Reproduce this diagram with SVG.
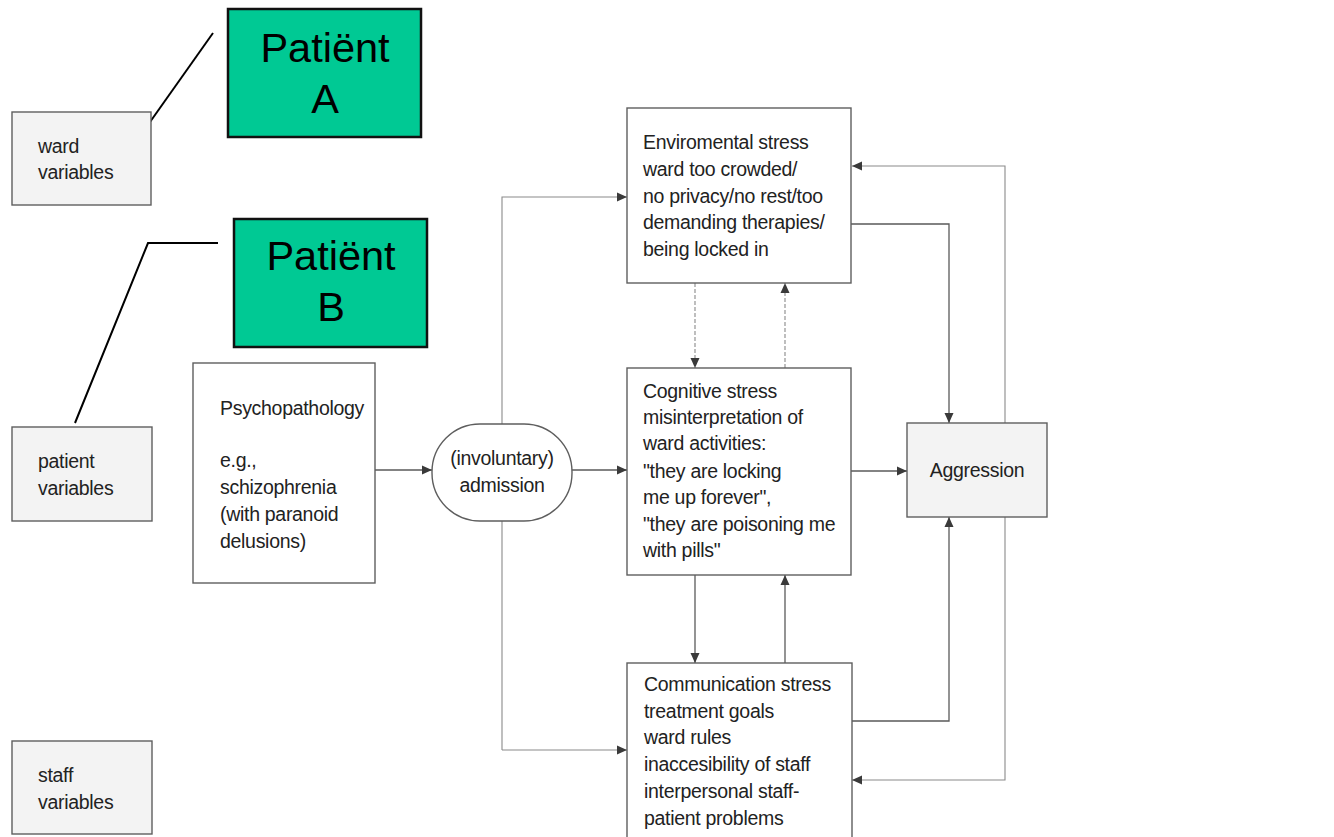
<svg xmlns="http://www.w3.org/2000/svg" width="1334" height="837" viewBox="0 0 1334 837">
<defs>
<marker id="ah" viewBox="0 0 10 10" refX="10" refY="5" markerWidth="10" markerHeight="10" markerUnits="userSpaceOnUse" orient="auto">
<path d="M0,0.5 L10,5 L0,9.5 Z" fill="#3a3a3a"/>
</marker>
<style>
.box{fill:#ffffff;stroke:#5e5e5e;stroke-width:1.4}
.gbox{fill:#f3f3f3;stroke:#5e5e5e;stroke-width:1.4}
.pat{fill:#00c994;stroke:#111;stroke-width:2.5}
.t{font-family:"Liberation Sans",Arial,sans-serif;font-size:19.5px;fill:#222;letter-spacing:-0.3px}
.tc{text-anchor:middle}
.pt{font-family:"Liberation Sans",Arial,sans-serif;font-size:41.5px;fill:#000;text-anchor:middle}
.c{fill:none;stroke:#5a5a5a;stroke-width:1.3}
.cf{fill:none;stroke:#8a8a8a;stroke-width:1.1}
.cd{fill:none;stroke:#8a8a8a;stroke-width:1.1;stroke-dasharray:4 2}
.blk{fill:none;stroke:#000;stroke-width:2}
</style>
</defs>
<rect width="1334" height="837" fill="#ffffff"/>

<g id="connectors">
<path class="blk" d="M150,122 L213,33"/>
<path class="blk" d="M218,243 L148,243 L75,423"/>
<path class="c" d="M375,470 L432,470" marker-end="url(#ah)"/>
<path class="c" d="M572,470 L627,470" marker-end="url(#ah)"/>
<path class="cf" d="M502,750 L502,197 L627,197" marker-end="url(#ah)"/>
<path class="cf" d="M502,750 L627,750" marker-end="url(#ah)"/>
<path class="cd" d="M695,283 L695,368" marker-end="url(#ah)"/>
<path class="cd" d="M785,368 L785,283" marker-end="url(#ah)"/>
<path class="c" d="M695,575 L695,663" marker-end="url(#ah)"/>
<path class="c" d="M785,663 L785,575" marker-end="url(#ah)"/>
<path class="c" d="M851,471 L907,471" marker-end="url(#ah)"/>
<path class="c" d="M851,224 L949,224 L949,423" marker-end="url(#ah)"/>
<path class="c" d="M852,721 L949,721 L949,517" marker-end="url(#ah)"/>
<path class="cf" d="M1005,423 L1005,166 L852,166" marker-end="url(#ah)"/>
<path class="cf" d="M1005,517 L1005,780 L852,780" marker-end="url(#ah)"/>
</g>

<g id="ward-variables">
<rect class="gbox" x="12" y="112" width="139" height="93"/>
<text class="t" x="38" y="153">ward</text>
<text class="t" x="38" y="179">variables</text>
</g>

<g id="patient-variables">
<rect class="gbox" x="12" y="427" width="140" height="94"/>
<text class="t" x="38" y="468">patient</text>
<text class="t" x="38" y="495">variables</text>
</g>

<g id="staff-variables">
<rect class="gbox" x="12" y="741" width="140" height="93"/>
<text class="t" x="38" y="782">staff</text>
<text class="t" x="38" y="809">variables</text>
</g>

<g id="patient-a">
<rect class="pat" x="228" y="9" width="193" height="128"/>
<text class="pt" x="325" y="62">Patiënt</text>
<text class="pt" x="325" y="113">A</text>
</g>

<g id="patient-b">
<rect class="pat" x="234" y="219" width="193" height="128"/>
<text class="pt" x="331" y="270">Patiënt</text>
<text class="pt" x="331" y="321">B</text>
</g>

<g id="psychopathology">
<rect class="box" x="193" y="363" width="182" height="220"/>
<text class="t" x="220" y="415">Psychopathology</text>
<text class="t" x="220" y="467">e.g.,</text>
<text class="t" x="220" y="494">schizophrenia</text>
<text class="t" x="220" y="521">(with paranoid</text>
<text class="t" x="220" y="548">delusions)</text>
</g>

<g id="admission">
<rect class="box" x="432" y="424" width="140" height="97" rx="48" ry="48"/>
<text class="t tc" x="502" y="465">(involuntary)</text>
<text class="t tc" x="502" y="492">admission</text>
</g>

<g id="environmental-stress">
<rect class="box" x="627" y="108" width="224" height="175"/>
<text class="t" x="643" y="149">Enviromental stress</text>
<text class="t" x="643" y="176">ward too crowded/</text>
<text class="t" x="643" y="203">no privacy/no rest/too</text>
<text class="t" x="643" y="229">demanding therapies/</text>
<text class="t" x="643" y="256">being locked in</text>
</g>

<g id="cognitive-stress">
<rect class="box" x="627" y="368" width="224" height="207"/>
<text class="t" x="643" y="398">Cognitive stress</text>
<text class="t" x="643" y="424">misinterpretation of</text>
<text class="t" x="643" y="450">ward activities:</text>
<text class="t" x="643" y="478">"they are locking</text>
<text class="t" x="643" y="504">me up forever",</text>
<text class="t" x="643" y="531">"they are poisoning me</text>
<text class="t" x="643" y="557">with pills"</text>
</g>

<g id="communication-stress">
<rect class="box" x="627" y="663" width="225" height="190"/>
<text class="t" x="644" y="691">Communication stress</text>
<text class="t" x="644" y="718">treatment goals</text>
<text class="t" x="644" y="744">ward rules</text>
<text class="t" x="644" y="771">inaccesibility of staff</text>
<text class="t" x="644" y="798">interpersonal staff-</text>
<text class="t" x="644" y="825">patient problems</text>
</g>

<g id="aggression">
<rect class="gbox" x="907" y="423" width="140" height="94"/>
<text class="t tc" x="977" y="477">Aggression</text>
</g>
</svg>
